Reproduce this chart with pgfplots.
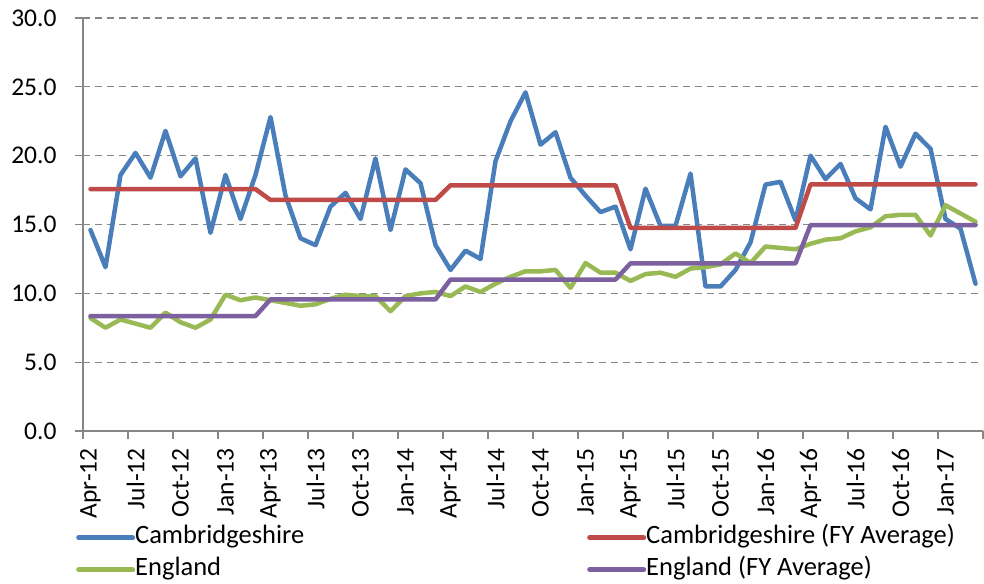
\documentclass[border=0pt]{standalone}
\usepackage{pgfplots}
\usepackage{pgfplotstable}
\pgfplotsset{compat=1.18}
\usepackage{fontspec}
\setmainfont{Carlito}
\definecolor{cblue}{HTML}{4A7EBB}
\definecolor{cred}{HTML}{BE4B48}
\definecolor{cgreen}{HTML}{98B954}
\definecolor{cpurple}{HTML}{7D60A0}
\definecolor{axgray}{HTML}{868686}
\pgfplotstableread{
i cam camfy eng engfy
0 14.6 17.57 8.2 8.35
1 11.9 17.57 7.5 8.35
2 18.6 17.57 8.1 8.35
3 20.2 17.57 7.8 8.35
4 18.4 17.57 7.5 8.35
5 21.8 17.57 8.6 8.35
6 18.5 17.57 7.9 8.35
7 19.8 17.57 7.5 8.35
8 14.4 17.57 8.1 8.35
9 18.6 17.57 9.9 8.35
10 15.4 17.57 9.5 8.35
11 18.6 17.57 9.7 8.35
12 22.8 16.78 9.5 9.56
13 17.1 16.78 9.3 9.56
14 14.0 16.78 9.1 9.56
15 13.5 16.78 9.2 9.56
16 16.3 16.78 9.6 9.56
17 17.3 16.78 9.9 9.56
18 15.4 16.78 9.8 9.56
19 19.8 16.78 9.8 9.56
20 14.6 16.78 8.7 9.56
21 19.0 16.78 9.8 9.56
22 18.0 16.78 10.0 9.56
23 13.5 16.78 10.1 9.56
24 11.7 17.85 9.8 11.0
25 13.1 17.85 10.5 11.0
26 12.5 17.85 10.1 11.0
27 19.6 17.85 10.7 11.0
28 22.5 17.85 11.2 11.0
29 24.6 17.85 11.6 11.0
30 20.8 17.85 11.6 11.0
31 21.7 17.85 11.7 11.0
32 18.4 17.85 10.4 11.0
33 17.1 17.85 12.2 11.0
34 15.9 17.85 11.5 11.0
35 16.3 17.85 11.5 11.0
36 13.2 14.75 10.9 12.18
37 17.6 14.75 11.4 12.18
38 14.9 14.75 11.5 12.18
39 14.9 14.75 11.2 12.18
40 18.7 14.75 11.8 12.18
41 10.5 14.75 11.9 12.18
42 10.5 14.75 12.1 12.18
43 11.7 14.75 12.9 12.18
44 13.7 14.75 12.2 12.18
45 17.9 14.75 13.4 12.18
46 18.1 14.75 13.3 12.18
47 15.3 14.75 13.2 12.18
48 20.0 17.91 13.6 14.96
49 18.3 17.91 13.9 14.96
50 19.4 17.91 14.0 14.96
51 16.9 17.91 14.5 14.96
52 16.1 17.91 14.8 14.96
53 22.1 17.91 15.6 14.96
54 19.2 17.91 15.7 14.96
55 21.6 17.91 15.7 14.96
56 20.5 17.91 14.2 14.96
57 15.4 17.91 16.4 14.96
58 14.7 17.91 15.8 14.96
59 10.7 17.91 15.2 14.96
}\datatable
\begin{document}
\begin{tikzpicture}
\path[use as bounding box] (-83pt,-152pt) rectangle (901pt,431pt);
\begin{axis}[
  scale only axis,
  width=900pt, height=413pt,
  xmin=-0.5, xmax=59.5,
  ymin=0, ymax=30,
  axis x line*=bottom,
  axis y line*=left,
  axis line style={-, draw=axgray, line width=1.5pt},
  ytick={0,5,...,30},
  ymajorgrids,
  major grid style={draw=axgray, line width=1.2pt, dash pattern=on 7pt off 5pt},
  tick align=outside,
  major tick length=8pt,
  tick style={draw=axgray, line width=1.3pt},
  xtick={-0.5,2.5,...,59.5},
  xticklabels={},
  extra x ticks={0,3,...,57},
  extra x tick labels={Apr-12,Jul-12,Oct-12,Jan-13,Apr-13,Jul-13,Oct-13,Jan-14,Apr-14,Jul-14,Oct-14,Jan-15,Apr-15,Jul-15,Oct-15,Jan-16,Apr-16,Jul-16,Oct-16,Jan-17},
  extra x tick style={tick style={draw=none}, xticklabel style={rotate=90, anchor=east, inner sep=0pt, xshift=3pt}},
  xticklabel shift=12pt,
  yticklabel shift=15pt,
  tick label style={font=\fontsize{25.5}{30}\selectfont},
  yticklabel style={/pgf/number format/.cd, fixed, fixed zerofill, precision=1, assume math mode=true},
  legend columns=2,
  legend style={draw=none, fill=none, inner sep=0pt, at={(axis description cs:-0.0078,-0.229)}, anchor=north west,
    font=\fontsize{26.5}{30}\selectfont, column sep=0pt, row sep=8pt,
    nodes={inner sep=0pt, text height=18pt, text depth=6pt}},
  legend cell align=left,
  legend image code/.code={\draw[#1, line width=5pt, line cap=round] (0pt,0pt) -- (54pt,0pt);},
  every axis plot/.append style={line width=4.5pt, line join=round, line cap=round, no markers},
]
\addplot[cblue] table[x=i, y=cam] {\datatable};
\addlegendentry{\makebox[452pt][l]{Cambridgeshire}}
\addplot[cred] table[x=i, y=camfy] {\datatable};
\addlegendentry{Cambridgeshire (FY Average)}
\addplot[cgreen] table[x=i, y=eng] {\datatable};
\addlegendentry{\makebox[452pt][l]{England}}
\addplot[cpurple] table[x=i, y=engfy] {\datatable};
\addlegendentry{England (FY Average)}
\end{axis}
\end{tikzpicture}
\end{document}
